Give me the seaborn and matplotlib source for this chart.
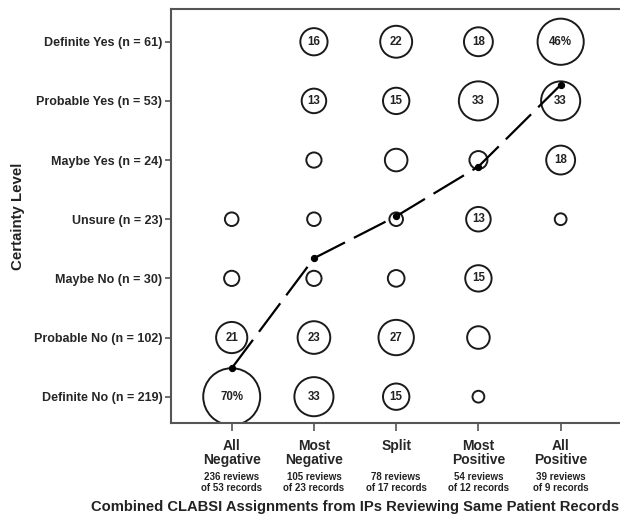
import matplotlib
matplotlib.use("Agg")
import matplotlib.pyplot as plt
import matplotlib.transforms as mtransforms
import seaborn as sns
import pandas as pd

# ---------------- data ----------------
columns = ["All\nNegative", "Most\nNegative", "Split\n ", "Most\nPositive", "All\nPositive"]
column_notes = ["236 reviews\nof 53 records", "105 reviews\nof 23 records",
                "78 reviews\nof 17 records", "54 reviews\nof 12 records",
                "39 reviews\nof 9 records"]
levels = ["Definite No (n = 219)", "Probable No (n = 102)", "Maybe No (n = 30)",
          "Unsure (n = 23)", "Maybe Yes (n = 24)", "Probable Yes (n = 53)",
          "Definite Yes (n = 61)"]

# percentage of reviews in each column at each certainty level (bottom -> top)
pct_all_negative = [70, 21, 5, 4, None, None, None]
pct_most_negative = [33, 23, 5, 4, 5, 13, 16]
pct_split = [15, 27, 6, 4, 11, 15, 22]
pct_most_positive = [3, 11, 15, 13, 7, 33, 18]
pct_all_positive = [None, None, None, 3, 18, 33, 46]

labels_all_negative = ["70%", "21", "", "", "", "", ""]
labels_most_negative = ["33", "23", "", "", "", "13", "16"]
labels_split = ["15", "27", "", "", "", "15", "22"]
labels_most_positive = ["", "", "15", "13", "", "33", "18"]
labels_all_positive = ["", "", "", "", "18", "33", "46%"]

# mean certainty level per column (0 = Definite No ... 6 = Definite Yes)
mean_certainty = [0.48, 2.34, 3.05, 3.89, 5.27]

# ---------------- build table ----------------
pct_cols = [pct_all_negative, pct_most_negative, pct_split, pct_most_positive, pct_all_positive]
lab_cols = [labels_all_negative, labels_most_negative, labels_split,
            labels_most_positive, labels_all_positive]
rows = []
for ci, (pcts, labs) in enumerate(zip(pct_cols, lab_cols)):
    for li, (p, lab) in enumerate(zip(pcts, labs)):
        if p is not None:
            rows.append({"col": ci, "level": li, "pct": p, "label": lab})
df = pd.DataFrame(rows)
line_df = pd.DataFrame({"col": range(len(columns)), "mean": mean_certainty})

# ---------------- plot ----------------
sns.set_style("white")
plt.rcParams["font.family"] = ["Liberation Sans", "DejaVu Sans"]

fig = plt.figure(figsize=(6.2, 5.21), dpi=100)
ax = fig.add_axes([0.2753, 0.1875, 0.7274, 0.7946])

sns.scatterplot(data=df, x="col", y="level", size="pct", sizes=(0, 1681),
                size_norm=(0, 70), marker="o", facecolor="none",
                edgecolor="black", linewidth=1.4, legend=False, ax=ax, zorder=2)
for coll in ax.collections:
    coll.set_facecolor("none")
    coll.set_edgecolor("#1a1a1a")

for _, r in df.iterrows():
    if r["label"]:
        ax.text(r["col"], r["level"], r["label"], ha="center", va="center",
                fontsize=8.3, fontweight="bold", color="#222222", zorder=4)

sns.lineplot(data=line_df, x="col", y="mean", color="black", linewidth=1.6,
             linestyle=(0, (16, 4.5)), marker="o", markersize=4.5,
             markeredgecolor="black", ax=ax, zorder=3)

ax.set_xlim(-0.742, 4.742)
ax.set_ylim(-0.45, 6.548)
ax.set_xticks(range(len(columns)))
ax.set_xticklabels(columns, fontsize=10, fontweight="bold", linespacing=1.0)
ax.set_yticks(range(len(levels)))
ax.set_yticklabels(levels, fontsize=9, fontweight="bold")
ax.tick_params(axis="x", direction="out", length=6, width=1.2, color="#555555",
               bottom=True, pad=5)
ax.tick_params(axis="y", direction="out", length=4, width=1.2, color="#555555",
               left=True, pad=2)
ax.set_xlabel("")
ax.set_ylabel("")

for side in ["left", "bottom", "top", "right"]:
    ax.spines[side].set_visible(True)
    ax.spines[side].set_color("#555555")
    ax.spines[side].set_linewidth(1.5)

trans = mtransforms.blended_transform_factory(ax.transData, ax.transAxes)
for i, note in enumerate(column_notes):
    ax.text(i, -0.118, note, transform=trans, ha="center", va="top",
            fontsize=7, fontweight="bold", linespacing=1.1, color="#222222")

fig.text(0.029, 0.584, "Certainty Level", rotation=90, ha="center", va="center",
         fontsize=10.8, fontweight="bold", color="#222222")
fig.text(0.572, 0.027, "Combined CLABSI Assignments from IPs Reviewing Same Patient Records",
         ha="center", va="center", fontsize=10.6, fontweight="bold", color="#222222")

fig.savefig("out.png", dpi=100)
